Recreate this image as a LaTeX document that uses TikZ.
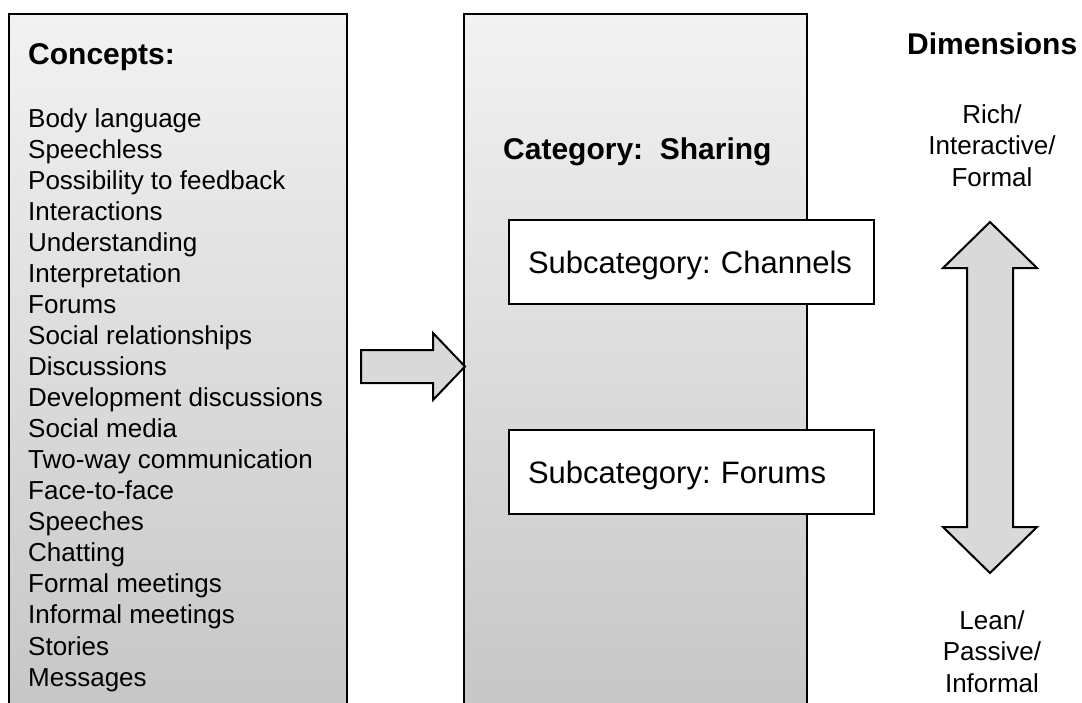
\documentclass[tikz,border=0pt]{standalone}
\usepackage{fontspec}
\setmainfont{Liberation Sans}
\frenchspacing
\definecolor{paneltop}{RGB}{242,242,242}
\definecolor{panelbot}{RGB}{197,197,197}
\definecolor{arrowgrey}{RGB}{217,217,217}
\tikzset{
  panel/.style={draw=black, line width=2.5pt, top color=paneltop, bottom color=panelbot},
  blockarrow/.style={draw=black, line width=2pt, fill=arrowgrey, line join=miter},
  heading/.style={anchor=base west, inner sep=0pt, font=\fontsize{30}{36}\selectfont\bfseries},
  concept/.style={anchor=base west, inner sep=0pt, font=\fontsize{26}{31}\selectfont},
  dimlabel/.style={anchor=north, inner sep=0pt, align=center, font=\fontsize{26}{31.5}\selectfont},
  subbox/.style={draw=black, line width=2pt, fill=white, minimum width=365pt, minimum height=84pt,
    text width=327pt, text depth=0pt, inner xsep=19pt, align=left, font=\fontsize{31}{37}\selectfont}
}
\begin{document}
\begin{tikzpicture}[x=1pt,y=-1pt]
\useasboundingbox (0,0) rectangle (1082,702);
\clip (0,0) rectangle (1082,702);

% the two panels run off the bottom
\filldraw[panel] (9,14) rectangle (347,730);
\filldraw[panel] (464,14) rectangle (807,730);

\node[heading] (concepts) at (28,64) {Concepts:};
\foreach \word [count=\i from 0] in {Body language, Speechless, Possibility to feedback,
    Interactions, Understanding, Interpretation, Forums, Social relationships,
    Discussions, Development discussions, Social media, Two-way communication,
    Face-to-face, Speeches, Chatting, Formal meetings, Informal meetings, Stories, Messages}
  \node[concept] (c\i) at (28,{127+31.06*\i}) {\word};

\node[heading] (category) at (503,159) {Category:\ \ Sharing};
\node[subbox] (channels) at (691.5,262) {Subcategory: Channels};
\node[subbox] (forums) at (691.5,472) {Subcategory: Forums};

\node[heading] (dims) at (907,54) {Dimensions};
\node[dimlabel] (rich) at (992,104) {Rich/\\Interactive/\\Formal};
\node[dimlabel] (lean) at (992,610) {Lean/\\Passive/\\Informal};

% block arrows
\filldraw[blockarrow] (361,350) -- (433,350) -- (433,333) -- (465,366.5)
  -- (433,400) -- (433,383) -- (361,383) -- cycle;
\filldraw[blockarrow] (990,222) -- (1037,268) -- (1013,268) -- (1013,527) -- (1037,527)
  -- (990,573) -- (943,527) -- (967,527) -- (967,268) -- (943,268) -- cycle;
\end{tikzpicture}
\end{document}
